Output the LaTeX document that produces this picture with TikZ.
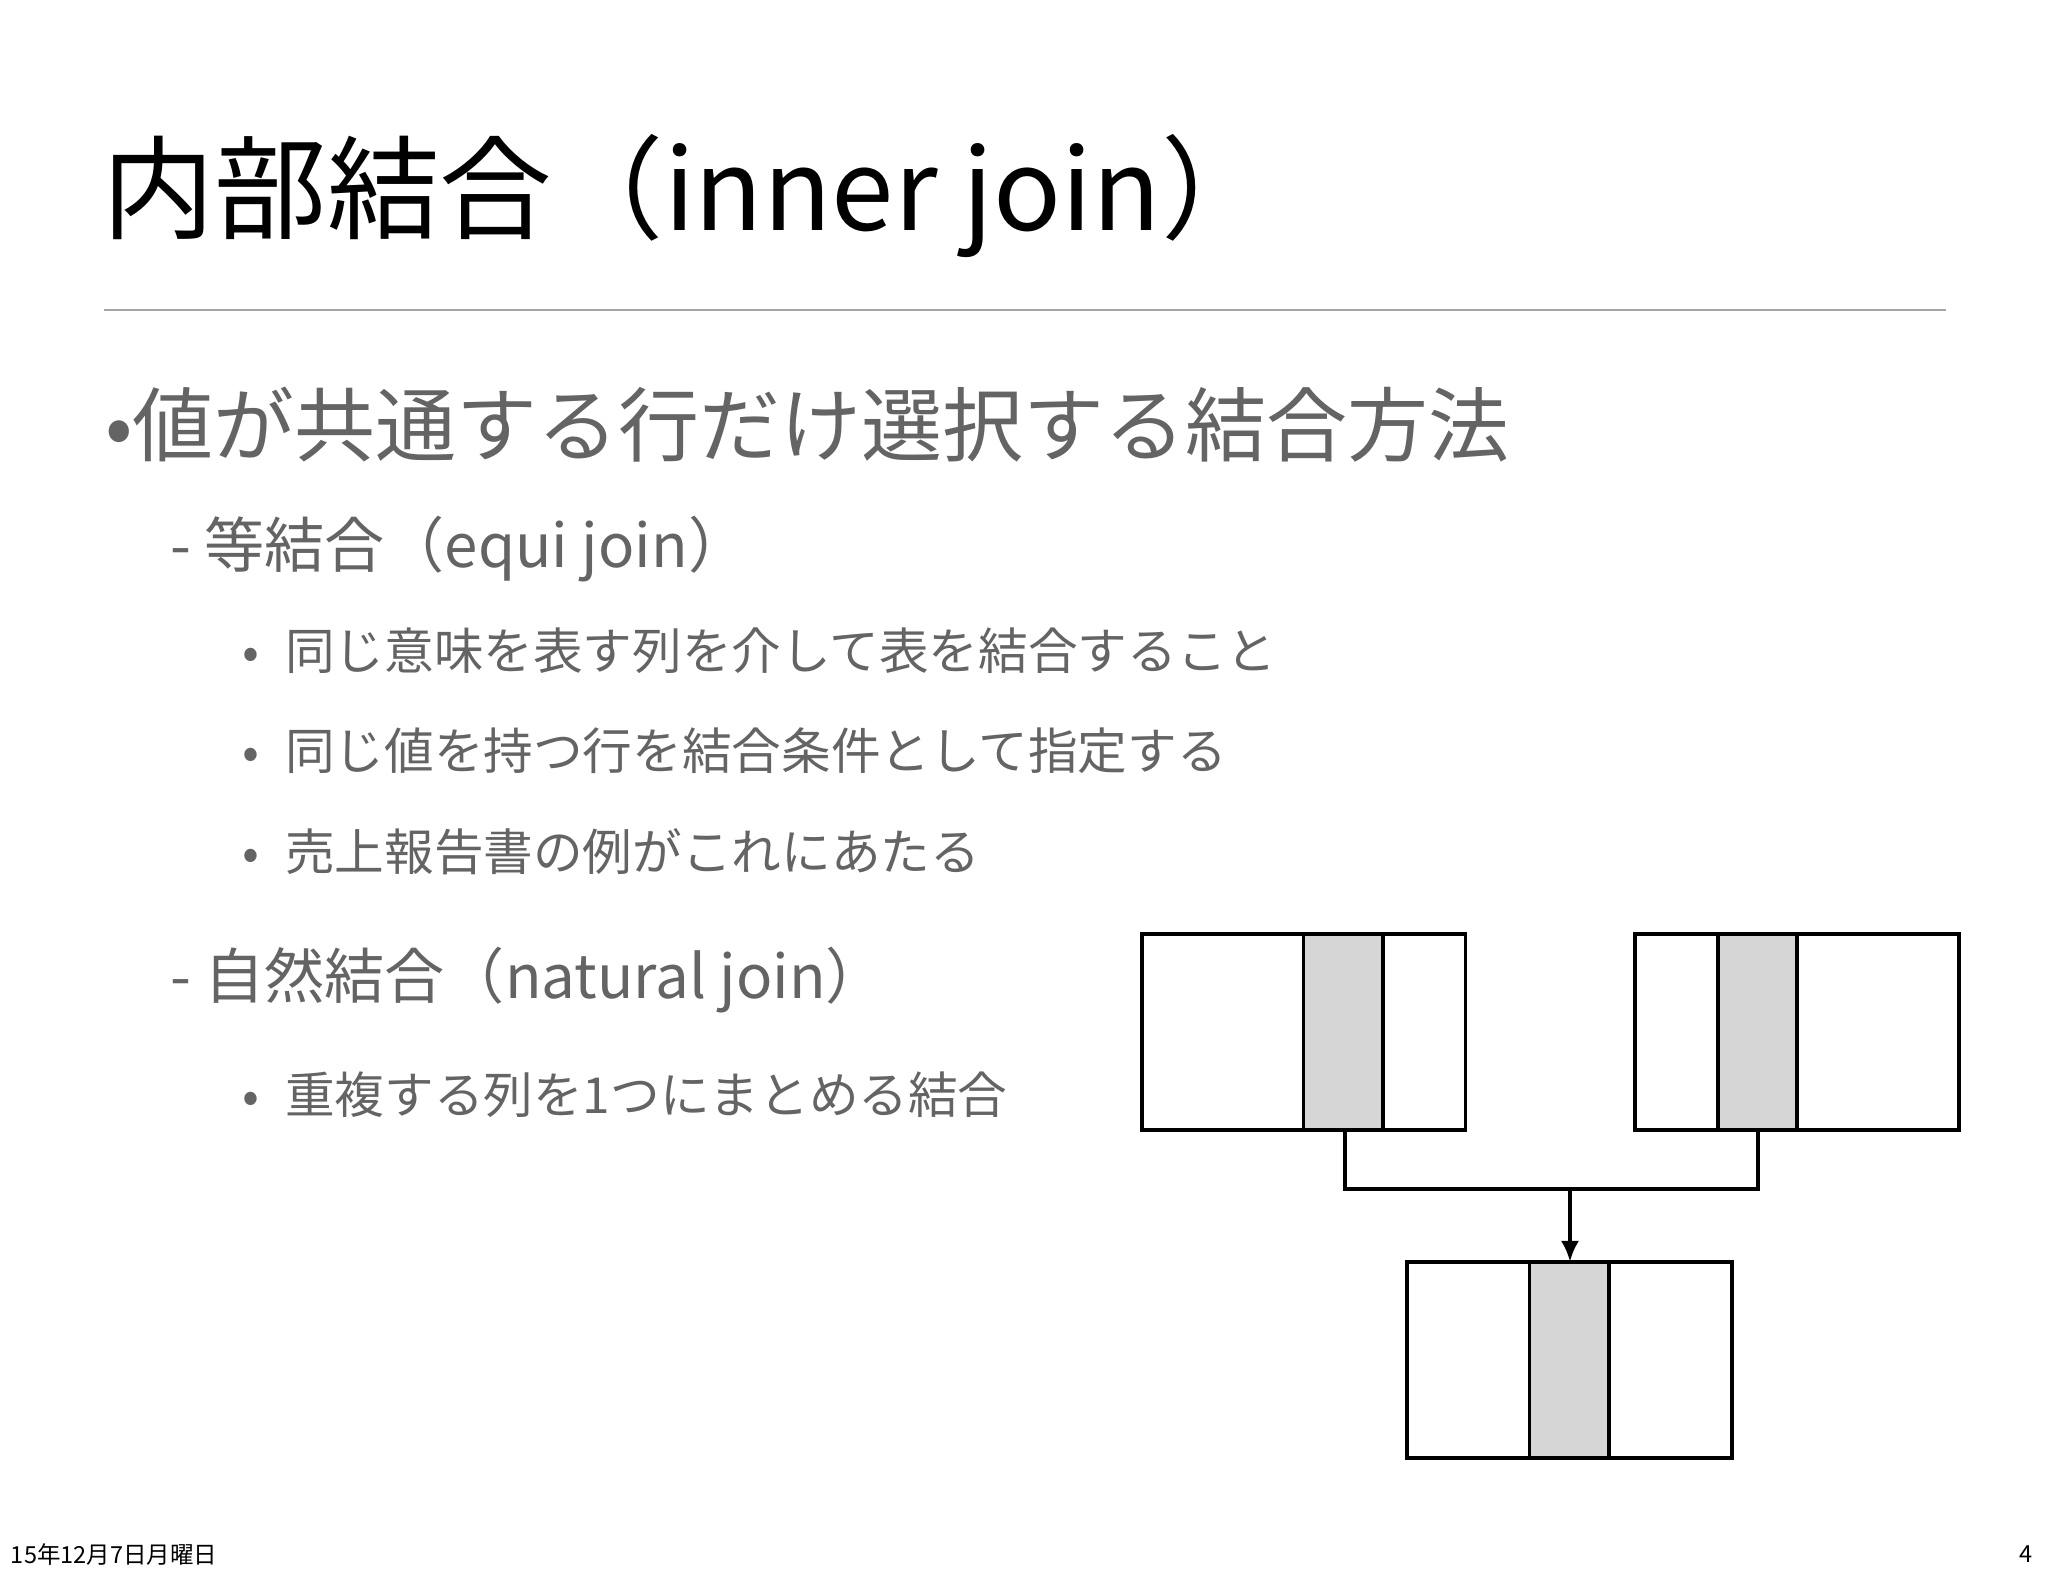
\documentclass[tikz,border=0pt]{standalone}
\usepackage{fontspec}
\setmainfont{Noto Sans CJK JP}
\usetikzlibrary{arrows.meta}
\definecolor{txtgray}{RGB}{100,100,100}
\definecolor{cellgray}{RGB}{214,214,214}
\tikzset{
 txt/.style={anchor=west,inner sep=0pt,text=txtgray},
 tbl/.style={draw=black,line width=1.5pt,fill=white},
 col/.style={draw=black,line width=1.5pt,fill=cellgray},
 conn/.style={draw=black,line width=1.5pt}
}
\begin{document}
\begin{tikzpicture}[x=0.5pt,y=-0.5pt]
\useasboundingbox (0,0) rectangle (1568,1206);
\node[anchor=west,inner sep=0pt,font=\fontsize{43}{50}\selectfont] (title) at (78,150) {内部結合（inner join）};
\draw[gray!70,line width=0.8pt] (80,237) -- (1490,237);
\node[txt,font=\fontsize{31}{36}\selectfont] (b1) at (80,325) {•値が共通する行だけ選択する結合方法};
\node[txt,font=\fontsize{23}{28}\selectfont] (s1) at (130,420) {- 等結合（equi join）};
\node[txt,font=\fontsize{19}{24}\selectfont] (t1) at (185,498) {•\hspace{10pt}同じ意味を表す列を介して表を結合すること};
\node[txt,font=\fontsize{19}{24}\selectfont] (t2) at (185,575) {•\hspace{10pt}同じ値を持つ行を結合条件として指定する};
\node[txt,font=\fontsize{19}{24}\selectfont] (t3) at (185,652) {•\hspace{10pt}売上報告書の例がこれにあたる};
\node[txt,font=\fontsize{23}{28}\selectfont] (s2) at (130,750) {- 自然結合（natural join）};
\node[txt,font=\fontsize{19}{24}\selectfont] (t4) at (185,838) {•\hspace{10pt}重複する列を1つにまとめる結合};
% tables
\draw[tbl] (874,715) rectangle (1122,865);
\draw[col] (998,715) rectangle (1059,865);
\draw[tbl] (1252,715) rectangle (1500,865);
\draw[col] (1315,715) rectangle (1376,865);
\draw[tbl] (1077,966) rectangle (1326,1116);
\draw[col] (1171,966) rectangle (1232,1116);
\coordinate (c1) at (1030,865);
\coordinate (c2) at (1346,865);
\coordinate (m) at (1202,910);
\coordinate (c3) at (1202,966);
\draw[conn] (c1) |- (m) -| (c2);
\draw[conn,-{Latex[length=8pt,width=7pt]}] (m) -- (c3);
\node[anchor=west,inner sep=0pt,font=\fontsize{9}{11}\selectfont] (date) at (8,1190) {15年12月7日月曜日};
\node[anchor=west,inner sep=0pt,font=\fontsize{9}{11}\selectfont] (page) at (1546,1190) {4};
\end{tikzpicture}
\end{document}
